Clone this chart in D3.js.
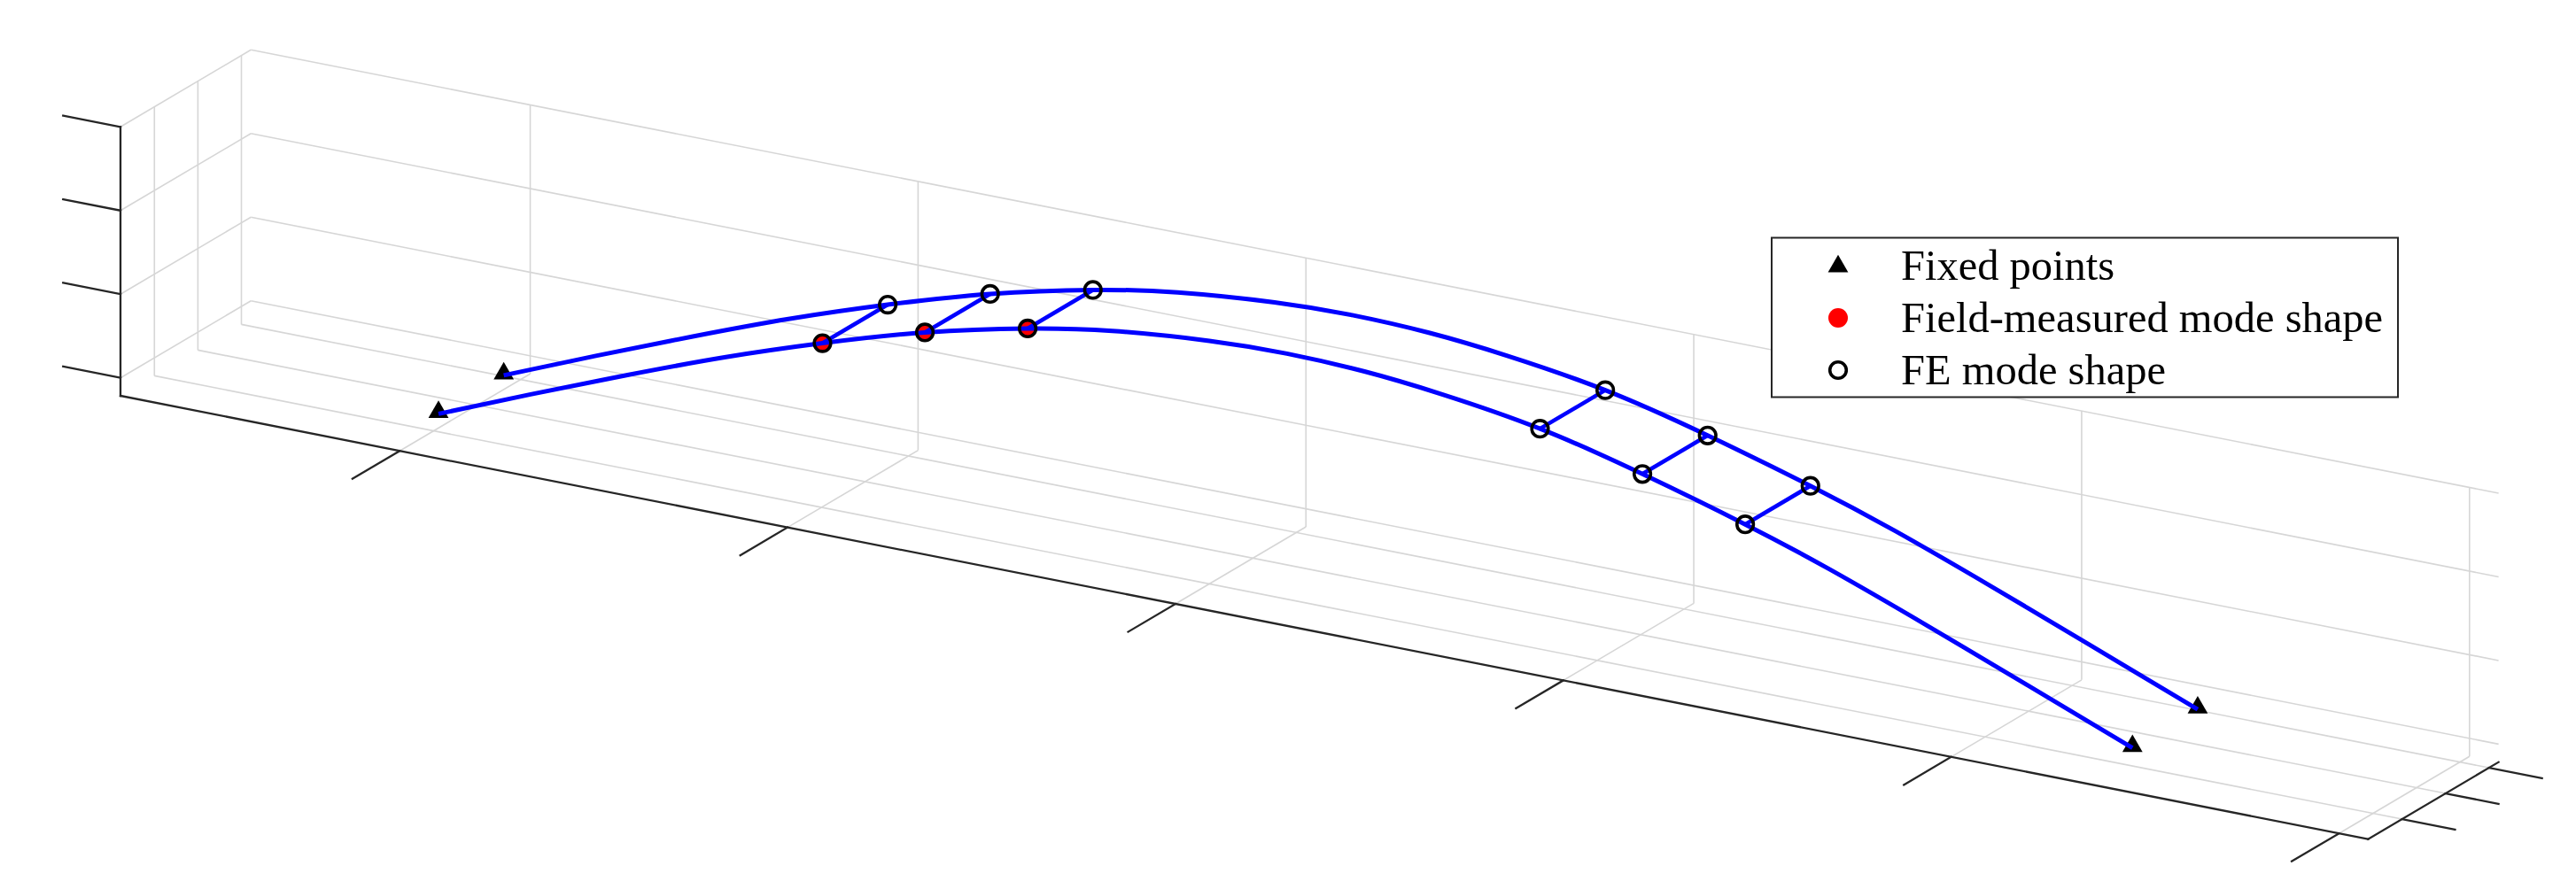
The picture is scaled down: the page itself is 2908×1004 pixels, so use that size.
<!DOCTYPE html>
<html><head><meta charset="utf-8">
<script src="https://cdn.jsdelivr.net/npm/d3@7"></script>
<style>html,body{margin:0;padding:0;background:#fff;overflow:hidden}</style>
</head><body>
<svg id="chart" width="2908" height="1004" xmlns="http://www.w3.org/2000/svg"></svg>
<script>
// ---------------- data ----------------
const xTicks = [0, 20, 40, 60, 80, 100];
const yTicks = [0, 1, 2];
const zTicks = [0, 1, 2, 3];
const xDomain = [-14.4, 101.5];
const yDomain = [-0.78, 2.22];
const zDomain = [-0.215, 3];
const girderY = [0, 1.5];                       // front girder, back girder
const stationX = [0.25, 5, 10, 15, 20.05, 25.33, 30.63, 35, 40, 44, 48, 52, 57.05, 62.33, 67.63, 72, 77, 82, 87.6];
const modeZ    = [0, 0.45, 0.91, 1.35, 1.75, 2.12, 2.41, 2.58, 2.69, 2.72, 2.69, 2.60, 2.42, 2.12, 1.76, 1.42, 0.98, 0.52, 0];
const supportX = [0.25, 87.6];
const supportZ = [0, 0];
const sensorX  = [20.05, 25.33, 30.63, 57.05, 62.33, 67.63];
const feZ      = [1.75, 2.12, 2.41, 2.42, 2.12, 1.76];
const measuredX = [20.05, 25.33, 30.63];
const measuredZ = [1.75, 2.12, 2.41];
const legendLabels = ["Fixed points", "Field-measured mode shape", "FE mode shape"];

// ---------------- projection ----------------
const origin = [136, 447];
const vx = [2537.3, 500.7], vy = [147.3, -87], vz = [0, -303.7];
const sx = d3.scaleLinear().domain(xDomain).range([0, 1]);
const sy = d3.scaleLinear().domain(yDomain).range([0, 1]);
const sz = d3.scaleLinear().domain(zDomain).range([0, 1]);
function P(x, y, z) {
  const a = sx(x), b = sy(y), c = sz(z);
  return [origin[0] + a * vx[0] + b * vy[0] + c * vz[0],
          origin[1] + a * vx[1] + b * vy[1] + c * vz[1]];
}
function unit(v) { const l = Math.hypot(v[0], v[1]); return [v[0] / l, v[1] / l]; }

const svg = d3.select("#chart");
svg.append("rect").attr("width", 2908).attr("height", 1004).attr("fill", "#fff");

const [x0, x1] = xDomain, [y0, y1] = yDomain, [z0, z1] = zDomain;

// ---------------- grid ----------------
const grid = [];
xTicks.forEach(t => { grid.push([P(t, y1, z0), P(t, y1, z1)]); grid.push([P(t, y0, z0), P(t, y1, z0)]); });
yTicks.forEach(t => { grid.push([P(x0, t, z0), P(x0, t, z1)]); grid.push([P(x0, t, z0), P(x1, t, z0)]); });
zTicks.forEach(t => { grid.push([P(x0, y1, t), P(x1, y1, t)]); grid.push([P(x0, y0, t), P(x0, y1, t)]); });
svg.append("g").selectAll("line").data(grid).join("line")
  .attr("x1", d => d[0][0]).attr("y1", d => d[0][1])
  .attr("x2", d => d[1][0]).attr("y2", d => d[1][1])
  .attr("stroke", "#d6d6d6").attr("stroke-width", 1.6);

// ---------------- axes ----------------
const axisCol = "#262626";
const axes = [[P(x0, y0, z0), P(x1, y0, z0)], [P(x1, y0, z0), P(x1, y1, z0)], [P(x0, y0, z0), P(x0, y0, z1)]];
const ux = unit(vx), uy = unit(vy);
const ticks = [];
xTicks.forEach(t => { const p = P(t, y0, z0); ticks.push([p, [p[0] - uy[0] * 62, p[1] - uy[1] * 62]]); });
yTicks.forEach(t => { const p = P(x1, t, z0); ticks.push([p, [p[0] + ux[0] * 61, p[1] + ux[1] * 61]]); });
zTicks.forEach(t => { const p = P(x0, y0, t); ticks.push([p, [p[0] - ux[0] * 66, p[1] - ux[1] * 66]]); });
svg.append("g").selectAll("line").data(axes.concat(ticks)).join("line")
  .attr("x1", d => d[0][0]).attr("y1", d => d[0][1])
  .attr("x2", d => d[1][0]).attr("y2", d => d[1][1])
  .attr("stroke", axisCol).attr("stroke-width", 2.3).attr("stroke-linecap", "square");

// ---------------- data marks ----------------
const tri = d3.symbol().type(d3.symbolTriangle).size(225);
const supports = [];
girderY.forEach(gy => supportX.forEach((x, i) => supports.push(P(x, gy, supportZ[i]))));
svg.append("g").selectAll("path").data(supports).join("path")
  .attr("d", tri).attr("transform", d => `translate(${d[0]},${d[1] - 2})`).attr("fill", "#000");

const measuredPts = measuredX.map((x, i) => P(x, girderY[0], measuredZ[i]));
svg.append("g").selectAll("circle").data(measuredPts).join("circle")
  .attr("cx", d => d[0]).attr("cy", d => d[1]).attr("r", 10.5).attr("fill", "#ff0000");

const line = d3.line().curve(d3.curveNatural);
girderY.forEach(gy => {
  const pts = stationX.map((x, i) => P(x, gy, modeZ[i]));
  svg.append("path").attr("d", line(pts)).attr("fill", "none")
    .attr("stroke", "#0000ff").attr("stroke-width", 5);
});
const rungs = sensorX.map((x, i) => [P(x, girderY[0], feZ[i]), P(x, girderY[1], feZ[i])]);
svg.append("g").selectAll("line").data(rungs).join("line")
  .attr("x1", d => d[0][0]).attr("y1", d => d[0][1])
  .attr("x2", d => d[1][0]).attr("y2", d => d[1][1])
  .attr("stroke", "#0000ff").attr("stroke-width", 4.6);

const fePts = [];
girderY.forEach(gy => sensorX.forEach((x, i) => fePts.push(P(x, gy, feZ[i]))));
svg.append("g").selectAll("circle").data(fePts).join("circle")
  .attr("cx", d => d[0]).attr("cy", d => d[1]).attr("r", 9.3)
  .attr("fill", "none").attr("stroke", "#000").attr("stroke-width", 3.6);

// ---------------- legend ----------------
const lg = svg.append("g");
lg.append("rect").attr("x", 2000).attr("y", 268.5).attr("width", 707).attr("height", 180)
  .attr("fill", "#fff").attr("stroke", axisCol).attr("stroke-width", 2);
const rowY = d3.scalePoint().domain(legendLabels).range([300, 418]);
const mx = 2075;
lg.append("path").attr("d", tri).attr("transform", `translate(${mx},${rowY(legendLabels[0]) + 1})`).attr("fill", "#000");
lg.append("circle").attr("cx", mx).attr("cy", rowY(legendLabels[1])).attr("r", 11).attr("fill", "#ff0000");
lg.append("circle").attr("cx", mx).attr("cy", rowY(legendLabels[2])).attr("r", 9.3)
  .attr("fill", "none").attr("stroke", "#000").attr("stroke-width", 3.6);
lg.selectAll("text").data(legendLabels).join("text")
  .attr("x", 2146).attr("y", d => rowY(d) + 16)
  .attr("font-family", "'Liberation Serif', 'Times New Roman', serif")
  .attr("font-size", 48.5).attr("fill", "#000").text(d => d);
</script>
</body></html>
